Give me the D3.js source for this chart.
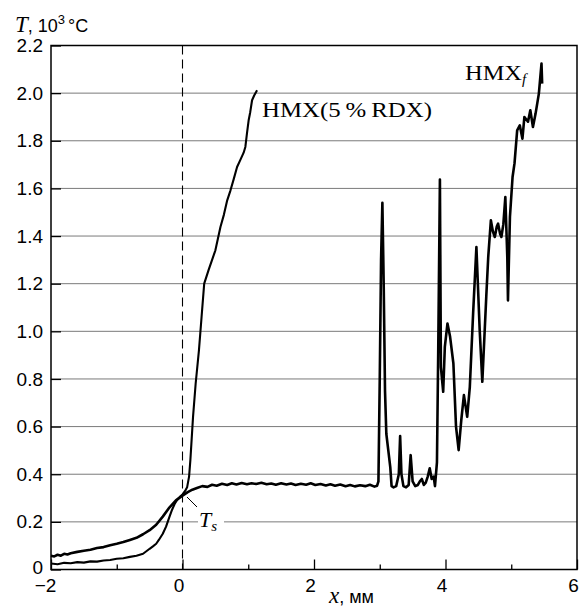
<!DOCTYPE html>
<html>
<head>
<meta charset="utf-8">
<script src="https://cdn.jsdelivr.net/npm/d3@7"></script>
<style>
  body { margin: 0; background: #fff; }
  svg { display: block; }
</style>
</head>
<body>
<script>
// HMX (5 % RDX) trace
var rdxX = [-2.0, -1.9, -1.8, -1.7, -1.6, -1.5, -1.4, -1.3, -1.2, -1.1, -1.0, -0.9, -0.8, -0.7, -0.6,
  -0.5, -0.45, -0.4, -0.36, -0.3, -0.25, -0.2, -0.16, -0.12, -0.08, -0.04, 0.0, 0.04, 0.07, 0.1,
  0.12, 0.16, 0.2, 0.25, 0.29, 0.33, 0.4, 0.45, 0.5, 0.577, 0.63, 0.68, 0.73, 0.78, 0.83, 0.88,
  0.93, 0.956, 0.98, 1.006, 1.03, 1.058, 1.09, 1.134];
var rdxT = [0.025, 0.022, 0.028, 0.026, 0.031, 0.029, 0.034, 0.033, 0.038, 0.04, 0.045, 0.047, 0.053, 0.058, 0.066,
  0.087, 0.097, 0.108, 0.124, 0.15, 0.18, 0.22, 0.25, 0.275, 0.293, 0.305, 0.315, 0.33, 0.345, 0.39,
  0.46, 0.64, 0.78, 0.92, 1.06, 1.2, 1.26, 1.3, 1.34, 1.438, 1.49, 1.55, 1.592, 1.64, 1.69, 1.72,
  1.75, 1.774, 1.83, 1.886, 1.92, 1.97, 1.99, 2.012];

// HMX_f trace
var hmxX = [-2.0, -1.95, -1.9, -1.85, -1.8, -1.75, -1.7, -1.6, -1.5, -1.4, -1.3, -1.2, -1.1, -1.0, -0.9, -0.8, -0.7, -0.6,
  -0.5, -0.4, -0.3, -0.2, -0.1, 0.0, 0.08, 0.15, 0.22, 0.3, 0.38, 0.45, 0.52, 0.6, 0.68, 0.75,
  0.82, 0.9, 0.98, 1.05, 1.12, 1.2, 1.28, 1.35, 1.42, 1.5, 1.58, 1.65, 1.72, 1.8, 1.88, 1.95,
  2.02, 2.1, 2.18, 2.25, 2.32, 2.4, 2.48, 2.55, 2.62, 2.7, 2.78, 2.85, 2.92, 2.96,
  2.98, 3.0, 3.02, 3.04, 3.06, 3.08, 3.1, 3.13, 3.16, 3.18, 3.21, 3.25, 3.29, 3.31, 3.33, 3.36,
  3.4, 3.44, 3.47, 3.5, 3.54, 3.58, 3.61, 3.64, 3.67, 3.7, 3.73, 3.76, 3.79, 3.82, 3.84, 3.87,
  3.89, 3.915, 3.93, 3.965, 3.99, 4.03, 4.07, 4.12, 4.16, 4.2, 4.24, 4.28, 4.33, 4.37, 4.42,
  4.47, 4.52, 4.56, 4.62, 4.65, 4.69, 4.72, 4.75, 4.78, 4.8, 4.83, 4.85, 4.88, 4.91, 4.94, 4.95,
  4.98, 5.02, 5.05, 5.09, 5.13, 5.17, 5.2, 5.255, 5.29, 5.33, 5.37, 5.42, 5.46, 5.47];
var hmxT = [0.058, 0.055, 0.062, 0.058, 0.066, 0.063, 0.068, 0.074, 0.079, 0.083, 0.09, 0.094, 0.102, 0.108, 0.115, 0.124, 0.133, 0.148,
  0.165, 0.188, 0.222, 0.26, 0.29, 0.31, 0.325, 0.335, 0.342, 0.35, 0.347, 0.356, 0.352, 0.36, 0.355, 0.362,
  0.357, 0.363, 0.358, 0.362, 0.359, 0.364, 0.358, 0.361, 0.356, 0.362, 0.357, 0.361, 0.355, 0.36, 0.356, 0.362,
  0.355, 0.359, 0.353, 0.358, 0.352, 0.357, 0.35, 0.355, 0.349, 0.354, 0.35, 0.356, 0.348, 0.352,
  0.37, 0.8, 1.3, 1.54, 1.2, 0.75, 0.57, 0.5, 0.43, 0.35, 0.345, 0.35, 0.4, 0.56, 0.4, 0.35,
  0.345, 0.355, 0.48, 0.37, 0.35, 0.355, 0.37, 0.38, 0.355, 0.365, 0.39, 0.425, 0.38, 0.39, 0.35, 0.45,
  0.935, 1.637, 0.85, 0.746, 0.935, 1.033, 0.977, 0.865, 0.6, 0.501, 0.627, 0.732, 0.641, 0.767, 1.075,
  1.354, 1.005, 0.788, 1.145, 1.312, 1.466, 1.42, 1.396, 1.44, 1.452, 1.41, 1.396, 1.45, 1.564, 1.31, 1.13,
  1.48, 1.648, 1.706, 1.844, 1.865, 1.809, 1.9, 1.88, 1.928, 1.858, 1.914, 1.998, 2.124, 2.04];

var yTicks = [0, 0.2, 0.4, 0.6, 0.8, 1.0, 1.2, 1.4, 1.6, 1.8, 2.0, 2.2];
var xMajor = [-2, 0, 2, 4, 6];
var xMinor = [-1, 1, 3, 5];

var width = 583, height = 607;
var plotLeft = 51, plotRight = 577, plotTop = 45.5, plotBottom = 569.5;

var svg = d3.select("body").append("svg")
  .attr("width", width)
  .attr("height", height);

var x = d3.scaleLinear().domain([-2, 6]).range([plotLeft, plotRight]);
var y = d3.scaleLinear().domain([0, 2.2]).range([plotBottom, plotTop]);

// gridlines
svg.append("g")
  .selectAll("line")
  .data(yTicks.filter(d => d > 0 && d < 2.2))
  .enter()
  .append("line")
    .attr("x1", plotLeft)
    .attr("x2", plotRight)
    .attr("y1", d => y(d))
    .attr("y2", d => y(d))
    .style("stroke", "#7a7a7a")
    .style("stroke-width", 1);

// y axis, ticks inward
var yAxis = svg.append("g")
  .attr("transform", "translate(" + plotLeft + ",0)")
  .call(d3.axisLeft(y).tickValues(yTicks).tickSize(-10).tickPadding(8)
    .tickFormat(d => d === 0 ? "0" : d3.format(".1f")(d)));
yAxis.select(".domain").remove();
yAxis.selectAll("line").style("stroke", "#000").style("stroke-width", 1.3);
yAxis.selectAll("text")
  .attr("y", d => d === 0 ? -2 : 0)
  .style("font-family", "'Liberation Sans', Arial, sans-serif")
  .style("font-size", "19px")
  .style("fill", "#000");

// x axis, major + minor ticks inward
var xAxis = svg.append("g")
  .attr("transform", "translate(0," + plotBottom + ")")
  .call(d3.axisBottom(x).tickValues(xMajor).tickSize(-10).tickPadding(9));
xAxis.select(".domain").remove();
xAxis.selectAll("line").style("stroke", "#000").style("stroke-width", 1.3);
xAxis.selectAll("text")
  .attr("dx", d => d === -2 ? -6 : -4)
  .style("font-family", "'Liberation Sans', Arial, sans-serif")
  .style("font-size", "19px")
  .style("fill", "#000");

var xAxisMinor = svg.append("g")
  .attr("transform", "translate(0," + plotBottom + ")")
  .call(d3.axisBottom(x).tickValues(xMinor).tickSize(-5).tickFormat(""));
xAxisMinor.select(".domain").remove();
xAxisMinor.selectAll("line").style("stroke", "#000").style("stroke-width", 1.3);

// frame
svg.append("rect")
  .attr("x", plotLeft)
  .attr("y", plotTop)
  .attr("width", plotRight - plotLeft)
  .attr("height", plotBottom - plotTop)
  .style("fill", "none")
  .style("stroke", "#000")
  .style("stroke-width", 1.5);

// dashed line at x = 0
svg.append("line")
  .attr("x1", x(0)).attr("x2", x(0))
  .attr("y1", plotTop).attr("y2", plotBottom)
  .style("stroke", "#000")
  .style("stroke-width", 1.1)
  .style("stroke-dasharray", "9,5");

var line = d3.line()
  .x(d => x(d[0]))
  .y(d => y(d[1]));

svg.append("path")
  .datum(d3.zip(rdxX, rdxT))
  .attr("d", line)
  .style("fill", "none")
  .style("stroke", "#000")
  .style("stroke-width", 2.1)
  .style("stroke-linejoin", "round");

svg.append("path")
  .datum(d3.zip(hmxX, hmxT))
  .attr("d", line)
  .style("fill", "none")
  .style("stroke", "#000")
  .style("stroke-width", 2.6)
  .style("stroke-linejoin", "round");

var serif = "'Liberation Serif', 'Times New Roman', serif";
var sans = "'Liberation Sans', Arial, sans-serif";

// curve labels
svg.append("text")
  .attr("x", 262)
  .attr("y", 117)
  .attr("textLength", 170)
  .attr("lengthAdjust", "spacingAndGlyphs")
  .style("font-family", serif)
  .style("font-size", "22px")
  .text("HMX(5\u2009%\u2009RDX)");

var hmxLabel = svg.append("text")
  .attr("x", 465)
  .attr("y", 80)
  .style("font-family", serif)
  .style("font-size", "22px");
hmxLabel.append("tspan").attr("textLength", 57).attr("lengthAdjust", "spacingAndGlyphs").text("HMX");
hmxLabel.append("tspan")
  .attr("dy", 4)
  .style("font-style", "italic")
  .style("font-size", "15px")
  .text("f");

// T_s marker
svg.append("line")
  .attr("x1", 187).attr("y1", 497)
  .attr("x2", 197).attr("y2", 507)
  .style("stroke", "#000")
  .style("stroke-width", 1);
svg.append("rect")
  .attr("x", 198).attr("y", 512)
  .attr("width", 26).attr("height", 20)
  .style("fill", "#fff");
var tsLabel = svg.append("text")
  .attr("x", 199)
  .attr("y", 527)
  .style("font-family", serif)
  .style("font-style", "italic")
  .style("font-size", "22px");
tsLabel.append("tspan").text("T");
tsLabel.append("tspan").attr("dy", 4).style("font-size", "15px").text("s");

// axis titles
var yTitle = svg.append("text")
  .attr("x", 15)
  .attr("y", 32)
  .style("font-family", sans)
  .style("font-size", "18px");
yTitle.append("tspan").style("font-family", serif).style("font-style", "italic").style("font-size", "23px").text("T");
yTitle.append("tspan").text(", 10");
yTitle.append("tspan").attr("dy", -8).style("font-size", "13px").text("3");
yTitle.append("tspan").attr("dy", 8).attr("dx", 3).text("°C");

var xTitle = svg.append("text")
  .attr("x", 329)
  .attr("y", 603)
  .style("font-family", sans)
  .style("font-size", "18px");
xTitle.append("tspan").style("font-family", serif).style("font-style", "italic").style("font-size", "23px").text("x");
xTitle.append("tspan").text(",  мм");
</script>
</body>
</html>
